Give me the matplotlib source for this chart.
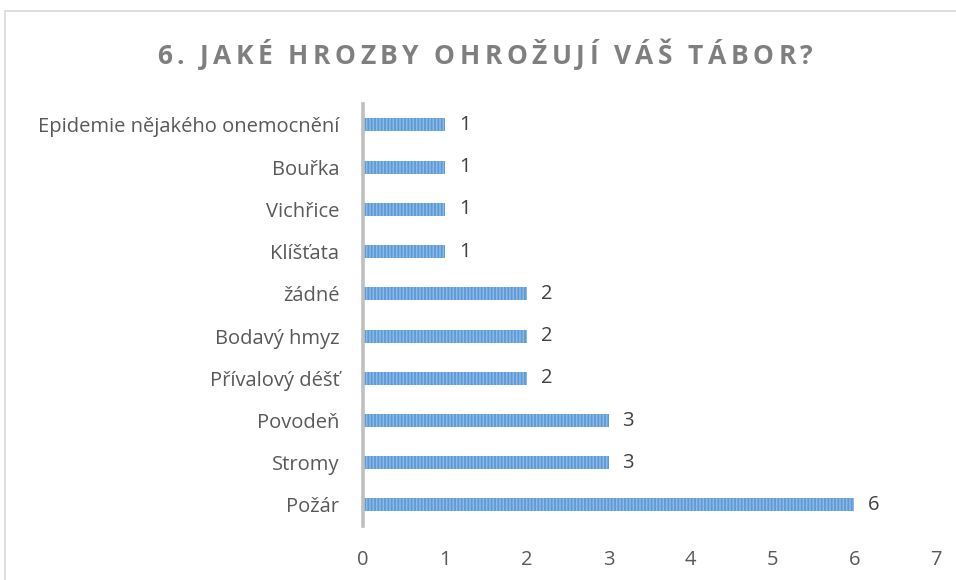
import matplotlib.pyplot as plt
from matplotlib.patches import Rectangle

plt.rcParams['font.family'] = ['Open Sans', 'DejaVu Sans']
plt.rcParams['hatch.linewidth'] = 1.3

# data, bottom to top
categories = ['Požár', 'Stromy', 'Povodeň', 'Přívalový déšť', 'Bodavý hmyz',
              'žádné', 'Klíšťata', 'Vichřice', 'Bouřka', 'Epidemie nějakého onemocnění']
values = [6, 3, 3, 2, 2, 2, 1, 1, 1, 1]
xticks = [0, 1, 2, 3, 4, 5, 6, 7]
title = '6. JAKÉ HROZBY OHROŽUJÍ VÁŠ TÁBOR?'

fig = plt.figure(figsize=(9.56, 5.80), dpi=100)
ax = fig.add_axes([0.3797, 0.093, 0.5994, 0.728])

# chart border (cropped at right and bottom)
fig.patches.append(Rectangle((5 / 956, -0.1), 1.1, 1 - 11 / 580 + 0.1,
                             transform=fig.transFigure, fill=False,
                             edgecolor='#D9D9D9', linewidth=1.2))

pos = list(range(len(categories)))
ax.barh(pos, values, height=0.31, color='#8DB9E6', edgecolor='#5B9BD5',
        linewidth=0, hatch='|||||')

for p, v in zip(pos, values):
    ax.text(v + 0.17, p, str(v), va='center', ha='left', fontsize=14.5,
            color='#404040')

ax.set_xlim(0, 7)
ax.set_ylim(-0.5, len(categories) - 0.5)
ax.set_xticks(xticks)
ax.set_yticks(pos)
ax.set_yticklabels(categories)
ax.tick_params(axis='y', length=0, pad=17, labelsize=14.5, labelcolor='#595959')
ax.tick_params(axis='x', length=0, pad=17, labelsize=14.5, labelcolor='#595959')
for s in ['top', 'right', 'bottom']:
    ax.spines[s].set_visible(False)
ax.spines['left'].set_color('#BFBFBF')
ax.spines['left'].set_linewidth(2.6)

# title with letter spacing, placed char by char
renderer = fig.canvas.get_renderer()
tsize = 19
spacing = 4.6  # px between letters
chars = []
total = 0
for ch in title:
    t = fig.text(0, 0, ch, fontsize=tsize, fontweight='bold', color='#7F7F7F',
                 va='baseline', ha='left')
    if ch == ' ':
        w = 6
        t.remove()
        t = None
    else:
        w = t.get_window_extent(renderer).width
    chars.append((t, w))
    total += w + spacing
total -= spacing
x = 485 - total / 2
for t, w in chars:
    if t is not None:
        t.set_position((x / 956, 1 - 64 / 580))
    x += w + spacing

fig.savefig('out.png', dpi=100)
